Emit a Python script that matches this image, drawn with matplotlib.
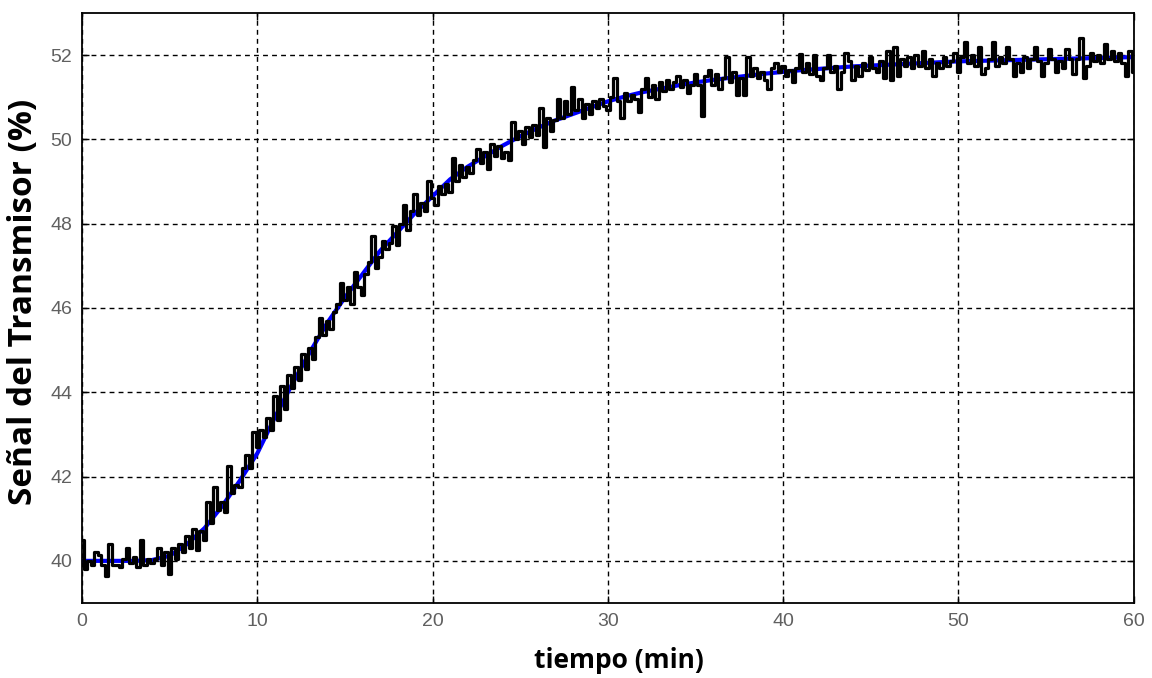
import numpy as np
import matplotlib.pyplot as plt

# ---------- data ----------
# smooth model response, one value per minute (0..60)
t_model = list(range(0, 61))
y_model = [40.0, 40.0, 40.0, 40.0, 40.02, 40.12, 40.4, 40.78, 41.3, 41.9,
           42.55, 43.4, 44.2, 44.95, 45.65, 46.25, 46.8, 47.35, 47.8, 48.25,
           48.65, 49.05, 49.35, 49.6, 49.85, 50.07, 50.27, 50.45, 50.6, 50.75,
           50.9, 51.02, 51.12, 51.2, 51.28, 51.35, 51.41, 51.46, 51.51, 51.56,
           51.6, 51.64, 51.67, 51.7, 51.73, 51.75, 51.77, 51.79, 51.81, 51.83,
           51.85, 51.86, 51.87, 51.88, 51.89, 51.9, 51.91, 51.92, 51.93, 51.94,
           51.95]

# measured transmitter signal, sampled every 0.2 min
t_step = 0.2
y_signal = [
    40.5, 39.8, 40.0, 39.9, 40.2, 40.15, 39.9, 39.65, 40.4, 39.9,      # 0-2
    39.9, 39.85, 40.05, 40.3, 39.95, 40.1, 39.85, 40.5, 39.9, 40.05,   # 2-4
    39.95, 40.05, 40.3, 39.9, 40.2, 39.7, 40.3, 40.05, 40.4, 40.2,     # 4-6
    40.6, 40.3, 40.75, 40.25, 40.7, 40.5, 41.4, 40.9, 41.75, 41.2,     # 6-8
    41.4, 41.15, 42.25, 41.6, 41.8, 41.75, 42.2, 42.5, 42.2, 43.05,    # 8-10
    42.7, 43.1, 42.95, 43.4, 43.1, 43.9, 43.35, 44.15, 43.6, 44.4,     # 10-12
    44.1, 44.6, 44.3, 44.9, 44.55, 45.05, 44.8, 45.3, 45.75, 45.35,    # 12-14
    45.7, 45.5, 45.9, 46.1, 46.6, 46.2, 46.5, 46.1, 46.85, 46.5,       # 14-16
    46.3, 46.8, 47.1, 47.7, 46.95, 47.2, 47.6, 47.4, 47.55, 47.95,     # 16-18
    47.5, 48.0, 48.45, 47.85, 48.3, 48.7, 48.2, 48.5, 48.3, 49.0,      # 18-20
    48.6, 48.45, 48.9, 48.7, 48.95, 48.75, 49.55, 49.0, 49.4, 49.1,    # 20-22
    49.35, 49.2, 49.5, 49.78, 49.45, 49.7, 49.3, 49.9, 49.6, 49.85,    # 22-24
    49.55, 49.7, 49.5, 50.4, 50.0, 50.2, 49.9, 50.3, 50.05, 50.35,     # 24-26
    50.1, 50.75, 49.82, 50.5, 50.2, 50.45, 50.95, 50.5, 50.9, 50.6,    # 26-28
    51.25, 50.7, 50.95, 50.5, 50.85, 50.6, 50.9, 50.75, 50.95, 50.8,   # 28-30
    50.7, 51.0, 51.45, 50.9, 50.5, 51.1, 50.9, 51.05, 50.95, 50.65,    # 30-32
    51.2, 51.45, 51.0, 51.3, 50.95, 51.35, 51.15, 51.4, 51.2, 51.35,   # 32-34
    51.5, 51.25, 51.4, 51.1, 51.3, 51.55, 51.3, 50.55, 51.5, 51.65,    # 34-36
    51.3, 51.55, 51.2, 51.45, 51.95, 51.35, 51.6, 51.05, 51.45, 51.05, # 36-38
    51.95, 51.5, 51.7, 51.45, 51.6, 51.4, 51.2, 51.7, 51.8, 51.6,      # 38-40
    51.75, 51.5, 51.65, 51.35, 51.7, 52.03, 51.6, 51.8, 51.55, 52.0,   # 40-42
    51.5, 51.4, 51.7, 52.0, 51.6, 51.75, 51.2, 51.6, 52.05, 51.85,     # 42-44
    51.4, 51.75, 51.5, 51.8, 51.65, 51.95, 51.7, 51.6, 51.85, 51.45,   # 44-46
    52.1, 51.4, 52.2, 51.5, 51.9, 51.75, 51.95, 51.7, 52.0, 51.75,     # 46-48
    52.1, 51.7, 51.9, 51.5, 51.8, 51.7, 51.95, 51.75, 51.85, 52.05,    # 48-50
    51.6, 51.95, 52.3, 51.8, 52.0, 51.75, 52.2, 51.55, 51.7, 51.9,     # 50-52
    52.3, 51.75, 51.95, 51.8, 52.2, 51.9, 51.5, 51.8, 51.6, 51.95,     # 52-54
    51.7, 51.9, 52.2, 51.85, 51.5, 51.8, 52.15, 51.9, 51.6, 51.85,     # 54-56
    51.7, 52.15, 51.9, 51.55, 51.9, 52.4, 51.45, 51.75, 52.05, 51.85,  # 56-58
    52.0, 51.8, 52.25, 51.9, 52.1, 51.85, 52.05, 51.8, 51.5, 52.1,     # 58-60
    51.6,
]
t_signal = np.arange(len(y_signal)) * t_step

x_ticks = [0, 10, 20, 30, 40, 50, 60]
y_ticks = [40, 42, 44, 46, 48, 50, 52]

# ---------- plot ----------
fig = plt.figure(figsize=(11.52, 6.78), dpi=100)
ax = fig.add_axes([0.0712, 0.1106, 0.9128, 0.8704])

ax.plot(t_model, y_model, color='#0000ff', lw=3, zorder=2)
ax.plot(t_signal, y_signal, color='black', lw=2.3, drawstyle='steps-mid', zorder=3)

ax.set_xlim(0, 60)
ax.set_ylim(39, 53)
ax.set_xticks(x_ticks)
ax.set_yticks(y_ticks)
ax.grid(True, color='black', linestyle=(0, (3.5, 3)), linewidth=1.0)
ax.tick_params(direction='in', length=5, width=1, top=True, right=True,
               labelsize=14, labelcolor='#606060', pad=7)
for lab in ax.get_xticklabels() + ax.get_yticklabels():
    lab.set_family('Liberation Sans')
for s in ax.spines.values():
    s.set_linewidth(1.3)

ax.set_xlabel('tiempo (min)', fontsize=19, fontweight='bold', family='Open Sans')
ax.set_ylabel('Señal del Transmisor (%)', fontsize=24, fontweight='bold', family='Open Sans')
ax.xaxis.set_label_coords(0.511, -0.075)
ax.yaxis.set_label_coords(-0.040, 0.51)

plt.savefig('out.png', dpi=100)
